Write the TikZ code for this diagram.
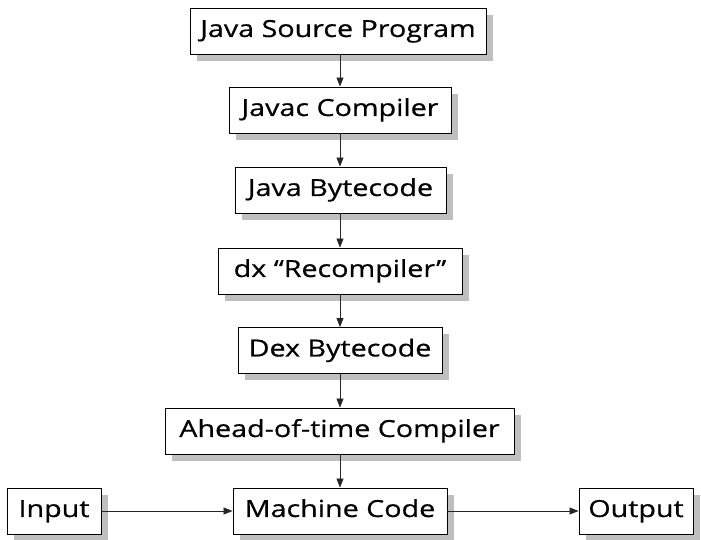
\documentclass[tikz,border=0pt]{standalone}
\usepackage{fontspec}
\setmainfont[FakeStretch=1.22,FakeBold=0.6]{Open Sans}
\usetikzlibrary{shadows,arrows.meta}
\begin{document}
\begin{tikzpicture}[x=1pt,y=1pt,
  stagebox/.style={draw=black, line width=0.9pt, fill=white, inner sep=0pt,
    minimum height=46pt, text height=17pt, text depth=5pt,
    font=\fontsize{23.5}{28}\selectfont,
    drop shadow={shadow xshift=7pt, shadow yshift=-7pt, fill=black!25, opacity=1}},
  flow/.style={draw=black!85, line width=0.8pt, -{Triangle[length=9pt,width=7pt]}}]
\useasboundingbox (0,0) rectangle (701,540);
\node[stagebox, minimum width=296pt] (jsp) at (338,509) {Java Source Program};
\node[stagebox, minimum width=222pt] (javac) at (340,430) {Javac Compiler};
\node[stagebox, minimum width=211pt] (jbc) at (340.5,350) {Java Bytecode};
\node[stagebox, minimum width=244pt] (dx) at (340,269) {dx “Recompiler”};
\node[stagebox, minimum width=204pt] (dex) at (340,189.5) {Dex Bytecode};
\node[stagebox, minimum width=349pt] (aot) at (339.5,109) {Ahead-of-time Compiler};
\node[stagebox, minimum width=214pt] (mc) at (340,29) {Machine Code};
\node[stagebox, minimum width=94pt] (in) at (54,29) {Input};
\node[stagebox, minimum width=114pt] (out) at (636,29) {Output};
\draw[flow] (jsp.south -| 340,0) -- (javac.north -| 340,0);
\draw[flow] (javac.south -| 340,0) -- (jbc.north -| 340,0);
\draw[flow] (jbc.south -| 340,0) -- (dx.north -| 340,0);
\draw[flow] (dx.south -| 340,0) -- (dex.north -| 340,0);
\draw[flow] (dex.south -| 340,0) -- (aot.north -| 340,0);
\draw[flow] (aot.south -| 340,0) -- (mc.north -| 340,0);
\draw[flow] (in.east) -- (mc.west);
\draw[flow] (mc.east) -- (out.west);
\end{tikzpicture}
\end{document}
